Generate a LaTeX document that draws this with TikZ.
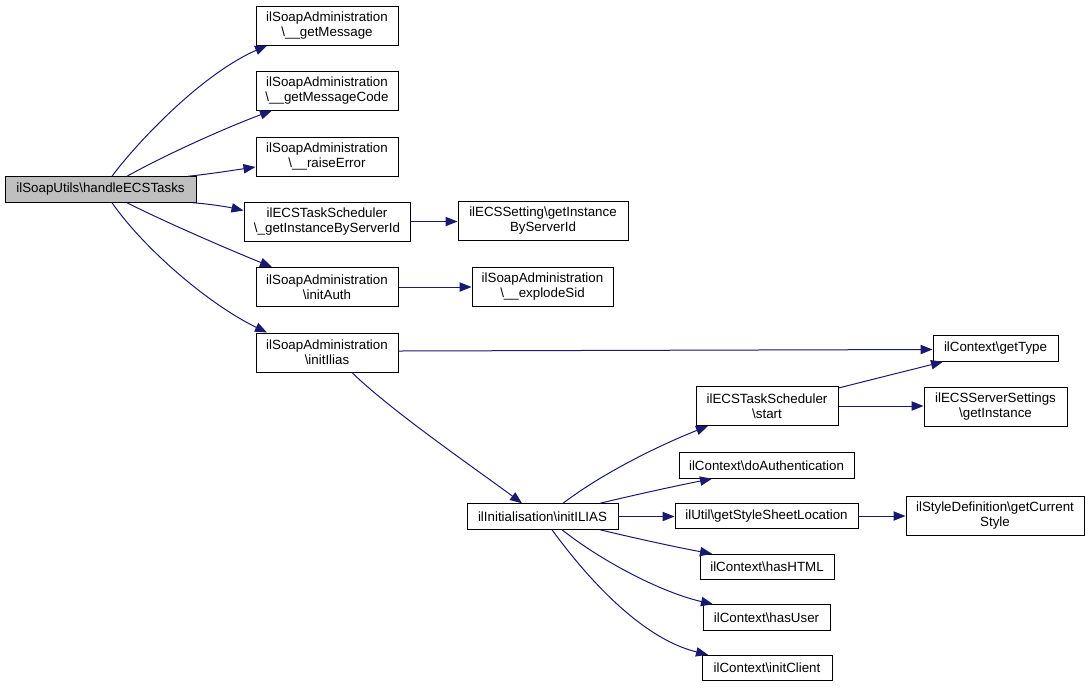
\documentclass[tikz,border=0pt]{standalone}
\usepackage{fontspec}
\setmainfont{Liberation Sans}
\usetikzlibrary{arrows.meta}
\definecolor{edgeblue}{HTML}{191970}
\definecolor{rootgray}{HTML}{BFBFBF}
\newcommand{\bs}{\textbackslash}
\begin{document}
\begin{tikzpicture}[x=0.75pt,y=-0.75pt,
  fn/.style={draw=black, line width=0.75pt, inner sep=0pt, align=center,
    font=\fontsize{10}{11.3}\selectfont, minimum width=#1*0.75pt},
  hone/.style={minimum height=25.5*0.75pt},
  htwo/.style={minimum height=39*0.75pt},
  call/.style={draw=edgeblue, line width=0.75pt, -{Triangle[length=9pt,width=7pt]}}]
\fill[white] (0,0) rectangle (1091,687);
\useasboundingbox (0,0) rectangle (1091,687);

\node[fn=191,hone,fill=rootgray] (root) at (100.5,189.5) {ilSoapUtils\bs handleECSTasks};
\node[fn=142,htwo] (gm) at (327,25.5) {ilSoapAdministration\\\bs\_\_getMessage};
\node[fn=142,htwo] (gmc) at (327,90.5) {ilSoapAdministration\\\bs\_\_getMessageCode};
\node[fn=142,htwo] (re) at (327,156.5) {ilSoapAdministration\\\bs\_\_raiseError};
\node[fn=166,htwo] (gi) at (327,221.5) {ilECSTaskScheduler\\\bs\_getInstanceByServerId};
\node[fn=142,htwo] (ia) at (327,287) {ilSoapAdministration\\\bs initAuth};
\node[fn=142,htwo] (ii) at (327,352.5) {ilSoapAdministration\\\bs initIlias};
\node[fn=170,htwo] (es) at (543,220.5) {ilECSSetting\bs getInstance\\ByServerId};
\node[fn=141,htwo] (ex) at (542.5,286.5) {ilSoapAdministration\\\bs\_\_explodeSid};
\node[fn=125,hone] (gt) at (995.5,348.5) {ilContext\bs getType};
\node[fn=142,htwo] (st) at (767,406) {ilECSTaskScheduler\\\bs start};
\node[fn=143,htwo] (ss) at (995.5,406.5) {ilECSServerSettings\\\bs getInstance};
\node[fn=151,hone] (iI) at (542.5,516.5) {ilInitialisation\bs initILIAS};
\node[fn=175,hone] (da) at (766.5,465.5) {ilContext\bs doAuthentication};
\node[fn=183,hone] (gs) at (766.5,516) {ilUtil\bs getStyleSheetLocation};
\node[fn=134,hone] (hh) at (767,567) {ilContext\bs hasHTML};
\node[fn=127,hone] (hu) at (766.5,617.5) {ilContext\bs hasUser};
\node[fn=130,hone] (ic) at (767,668) {ilContext\bs initClient};
\node[fn=178,htwo] (cs) at (995,516) {ilStyleDefinition\bs getCurrent\\Style};

\draw[call] (root.north -| 112,0) .. controls (135,145) and (200,75) .. (gm.south -| 267,0);
\draw[call] (root.north -| 127,0) .. controls (165,155) and (225,128) .. (gmc.south -| 272,0);
\draw[call] (root.north -| 188,0) .. controls (210,174) and (235,170) .. (re.west |- 0,167);
\draw[call] (root.south -| 193,0) .. controls (210,204) and (228,207) .. (gi.west |- 0,210.5);
\draw[call] (root.south -| 127,0) .. controls (165,222) and (230,250) .. (ia.north -| 272,0);
\draw[call] (root.south -| 112,0) .. controls (145,250) and (210,305) .. (ii.north -| 267,0);
\draw[call] (gi.east) -- (gi.east -| es.west);
\draw[call] (ia.east) -- (ia.east -| ex.west);
\draw[call] (ii.east |- 0,351) -- (gt.west |- 0,349.5);
\draw[call] (ii.south -| 352,0) .. controls (390,410) and (480,472) .. (iI.north -| 522,0);
\draw[call] (iI.north -| 563,0) .. controls (600,475) and (655,447) .. (st.south -| 708,0);
\draw[call] (iI.north -| 600,0) .. controls (630,496) and (675,486) .. (da.south -| 712,0);
\draw[call] (iI.east) -- (iI.east -| gs.west);
\draw[call] (iI.south -| 600,0) .. controls (630,537) and (675,547) .. (hh.north -| 712,0);
\draw[call] (iI.south -| 562,0) .. controls (600,560) and (660,592) .. (hu.north -| 713,0);
\draw[call] (iI.south -| 552,0) .. controls (585,575) and (640,638) .. (ic.north -| 708,0);
\draw[call] (st.east |- 0,388) .. controls (870,380) and (910,370) .. (gt.south -| 943,0);
\draw[call] (st.east) -- (st.east -| ss.west);
\draw[call] (gs.east) -- (gs.east -| cs.west);
\end{tikzpicture}
\end{document}
